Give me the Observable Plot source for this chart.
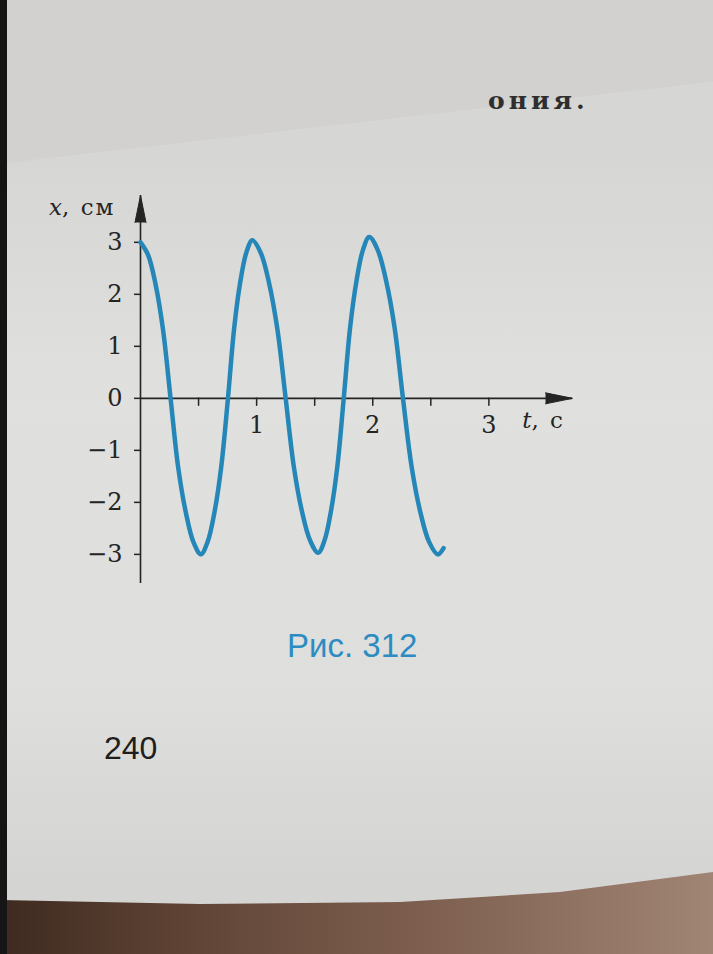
<!DOCTYPE html>
<html>
<head>
<meta charset="utf-8">
<script src="https://cdn.jsdelivr.net/npm/d3@7"></script>
<script src="https://cdn.jsdelivr.net/npm/@observablehq/plot@0.6"></script>
<style>
  html, body { margin: 0; padding: 0; }
  body { width: 713px; height: 954px; overflow: hidden; position: relative; background: #dcdcda; }
  #upper { position: absolute; left: 0; top: 0; width: 713px; height: 954px; background: #d2d1cf;
           clip-path: polygon(0 0, 713px 0, 713px 82px, 0 164px); }
  #lower { position: absolute; left: 0; top: 0; width: 713px; height: 954px;
           background: linear-gradient(180deg, #d6d6d4 160px, #e0e0de 400px, #dededc 700px, #d4d4d2 880px);
           clip-path: polygon(0 164px, 713px 82px, 713px 954px, 0 954px); }
  #wood { position: absolute; left: 0; top: 0; width: 713px; height: 954px;
          background: linear-gradient(90deg, #3e2a20 0px, #5e4334 180px, #7e5f4f 420px, #a08474 713px);
          clip-path: polygon(0 900px, 200px 904px, 400px 902px, 560px 892px, 713px 872px, 713px 954px, 0 954px); }
  #edge { position: absolute; left: 0; top: 0; width: 7px; height: 954px; background: #151515; }
  #chart { position: absolute; left: 0; top: 170px; }
  #toptext { position: absolute; left: 488px; top: 86px; font: bold 25px "DejaVu Serif", serif; color: #2e2e2e; letter-spacing: 4px; }
  #caption { position: absolute; left: 287px; top: 627px; font: 33px "Liberation Sans", Arial, sans-serif; color: #2c8cc2; }
  #pagenum { position: absolute; left: 104px; top: 730px; font: 32px "Liberation Sans", Arial, sans-serif; color: #1e1e1e; }
</style>
</head>
<body>
<div id="upper"></div>
<div id="lower"></div>
<div id="wood"></div>
<div id="edge"></div>
<div id="toptext">ония.</div>
<div id="chart"></div>
<div id="caption">Рис. 312</div>
<div id="pagenum">240</div>
<script>
// ---- data ----
// time t, s
const tValues = [0, 0.065, 0.13, 0.194, 0.259, 0.324, 0.39, 0.455, 0.52, 0.578, 0.637, 0.695, 0.753,
                 0.806, 0.858, 0.911, 0.963, 1.035, 1.107, 1.178, 1.25, 1.32, 1.39, 1.46, 1.53,
                 1.585, 1.64, 1.695, 1.75, 1.805, 1.86, 1.915, 1.97, 2.043, 2.115, 2.188, 2.26,
                 2.335, 2.41, 2.485, 2.56, 2.61];
// displacement x, cm
const xValues = [3.0, 2.76, 2.19, 1.32, 0, -1.32, -2.19, -2.76, -3.0, -2.76, -2.19, -1.32, 0,
                 1.34, 2.22, 2.8, 3.04, 2.8, 2.22, 1.34, 0, -1.31, -2.17, -2.73, -2.97,
                 -2.73, -2.17, -1.31, 0, 1.36, 2.26, 2.85, 3.1, 2.85, 2.26, 1.36, 0,
                 -1.32, -2.19, -2.76, -3.0, -2.88];

// axes
const tAxisExtent = [0, 3.72];        // t-axis runs from origin to the arrow tip
const xAxisExtent = [-3.56, 3.9];     // x-axis runs from below −3 to the arrow tip
const tTicks = [0.5, 1, 1.5, 2, 2.5, 3];
const tTickLabels = [1, 2, 3];
const xTicks = [-3, -2, -1, 0, 1, 2, 3];
const xAxisTitle = "x, см";
const tAxisTitle = "t, c";

const data = tValues.map((t, i) => ({t, x: xValues[i]}));

const ink = "#242424";
const blue = "#2587b8";
const serif = "DejaVu Serif, serif";

const tickShape = {draw(ctx, l) { ctx.moveTo(0, 0); ctx.lineTo(0, -l); }};

const chart = Plot.plot({
  width: 620,
  height: 453,
  marginLeft: 140,
  marginRight: 48,
  marginTop: 25,
  marginBottom: 40,
  style: {background: "transparent", overflow: "visible"},
  x: {domain: tAxisExtent, axis: null},
  y: {domain: xAxisExtent, axis: null},
  marks: [
    Plot.ruleX([tAxisExtent[0]], {stroke: ink, strokeWidth: 1.6}),
    Plot.ruleY([0], {stroke: ink, strokeWidth: 1.6}),
    // arrow heads
    Plot.vector([{x: tAxisExtent[0], y: xAxisExtent[1], r: 0}, {x: tAxisExtent[1], y: 0, r: 90}], {
      x: "x", y: "y", rotate: "r", shape: "spike", length: 27, r: 5.5, anchor: "end",
      fill: ink, stroke: ink, strokeWidth: 1
    }),
    // y axis ticks and labels
    Plot.axisY({ticks: xTicks, tickSize: 6, tickPadding: 12, fontSize: 24, fontFamily: serif,
                stroke: ink, fill: ink, strokeWidth: 1.5, label: null, tickFormat: d => d < 0 ? "\u2212" + Math.abs(d) : String(d)}),
    // t axis ticks
    Plot.vector(tTicks, {x: d => d, y: () => 0, shape: tickShape, length: 7, rotate: 180, anchor: "start",
                         stroke: ink, strokeWidth: 1.5}),
    Plot.text(tTickLabels, {x: d => d, y: () => 0, text: d => String(d), dy: 27, fontSize: 24,
                            fontFamily: serif, fill: ink}),
    // axis titles
    Plot.text([tAxisTitle], {x: () => tAxisExtent[1], y: () => 0, text: d => d, dx: -29, dy: 22,
                             fontSize: 23, fontFamily: serif, fill: ink, textAnchor: "middle"}),
    Plot.text([xAxisTitle], {x: () => tAxisExtent[0], y: () => xAxisExtent[1], text: d => d, dx: -25, dy: 12,
                             fontSize: 23, fontFamily: serif, fill: ink, textAnchor: "end"}),
    // the oscillation curve
    Plot.line(data, {x: "t", y: "x", curve: "catmull-rom", stroke: blue, strokeWidth: 4.5,
                     strokeLinecap: "round", strokeLinejoin: "round"})
  ]
});

// italicise the variable letters in the axis titles
d3.select(chart).selectAll("text").each(function () {
  const s = this.textContent;
  if (s === xAxisTitle || s === tAxisTitle) {
    const sel = d3.select(this);
    sel.text(null);
    sel.append("tspan").attr("font-style", "italic").text(s.slice(0, 1));
    sel.append("tspan").attr("letter-spacing", "2").text(s.slice(1));
  }
});

document.getElementById("chart").appendChild(chart);
</script>
</body>
</html>
